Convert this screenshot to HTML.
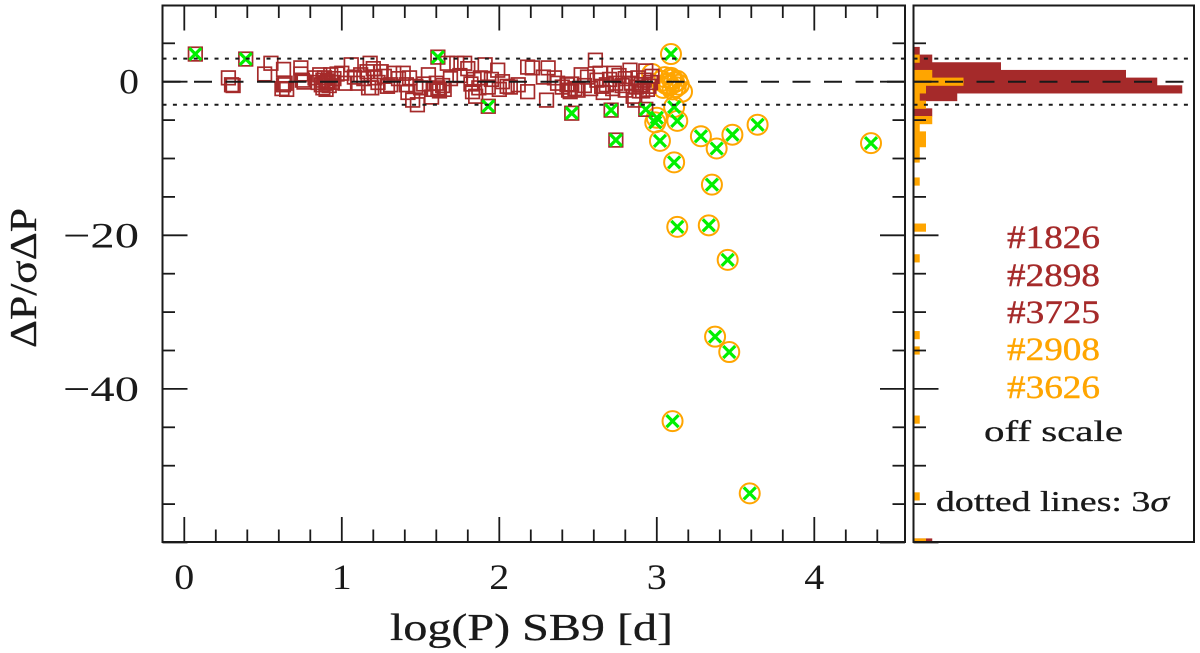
<!DOCTYPE html>
<html>
<head>
<meta charset="utf-8">
<style>
html,body{margin:0;padding:0;background:#fff;width:1200px;height:653px;overflow:hidden}
svg{display:block}
text{font-family:"Liberation Serif","DejaVu Serif",serif;fill:#1a1a1a}
</style>
</head>
<body>
<svg id="chart" width="1200" height="653" viewBox="0 0 1200 653" xmlns="http://www.w3.org/2000/svg">
<defs>
<clipPath id="hist-clip"><rect x="913.5" y="5.5" width="280.5" height="536.5"/></clipPath>
</defs>
<text x="390" y="640" font-size="38" textLength="283" lengthAdjust="spacingAndGlyphs" stroke="#1a1a1a" stroke-width="0.3">log(P) SB9 [d]</text>
<text transform="translate(36,348) rotate(-90)" font-size="38" textLength="140" lengthAdjust="spacingAndGlyphs" stroke="#1a1a1a" stroke-width="0.3">ΔP/σΔP</text>
<text x="1007" y="248" font-size="33" textLength="93" lengthAdjust="spacingAndGlyphs" stroke="#a52a2a" stroke-width="0.4" style="fill:#a52a2a">#1826</text>
<text x="1007" y="286" font-size="33" textLength="93" lengthAdjust="spacingAndGlyphs" stroke="#a52a2a" stroke-width="0.4" style="fill:#a52a2a">#2898</text>
<text x="1007" y="323" font-size="33" textLength="93" lengthAdjust="spacingAndGlyphs" stroke="#a52a2a" stroke-width="0.4" style="fill:#a52a2a">#3725</text>
<text x="1007" y="360" font-size="33" textLength="93" lengthAdjust="spacingAndGlyphs" stroke="#ffa500" stroke-width="0.4" style="fill:#ffa500">#2908</text>
<text x="1007" y="398" font-size="33" textLength="93" lengthAdjust="spacingAndGlyphs" stroke="#ffa500" stroke-width="0.4" style="fill:#ffa500">#3626</text>
<text x="984" y="441" font-size="30" textLength="139" lengthAdjust="spacingAndGlyphs" stroke="#1a1a1a" stroke-width="0.3">off scale</text>
<text x="936" y="511" font-size="29" textLength="233" lengthAdjust="spacingAndGlyphs" stroke="#1a1a1a" stroke-width="0.3">dotted lines: 3<tspan font-style="italic">σ</tspan></text>
</svg>
<script>
var xTickLabels = [0, 1, 2, 3, 4];
var yTickLabels = [0, -20, -40];
var sigmaLevels = [3, -3];

var squareLogP = [0.28,0.30,0.31,0.51,0.55,0.63,0.74,0.63,0.62,0.64,0.65,0.75,0.76,0.74,0.83,0.85,0.86,0.87,0.88,0.88,0.89,0.90,0.90,0.91,0.92,0.93,0.94,0.95,0.97,1.00,1.02,1.06,1.08,1.10,1.12,1.14,1.16,1.17,1.18,1.19,1.20,1.21,1.23,1.25,1.27,1.29,1.31,1.33,1.36,1.39,1.41,1.43,1.42,1.45,1.48,1.47,1.50,1.52,1.55,1.57,1.58,1.60,1.61,1.62,1.64,1.65,1.67,1.69,1.73,1.75,1.78,1.80,1.82,1.83,1.84,1.85,1.87,1.88,1.91,1.93,1.95,1.99,2.00,2.02,2.05,2.07,2.12,2.18,2.18,2.21,2.31,2.30,2.28,2.35,2.37,2.40,2.43,2.44,2.45,2.46,2.48,2.50,2.52,2.54,2.56,2.58,2.61,2.62,2.64,2.65,2.66,2.68,2.70,2.73,2.72,2.74,2.76,2.78,2.80,2.80,2.83,2.84,2.85,2.86,2.87,2.88,2.89,2.90,2.91,2.92,2.93,2.94,2.95,2.96,2.97];
var squareDelta = [0.5,-0.4,-0.5,1.0,2.4,1.6,1.8,-0.4,-0.9,-0.2,-1.0,0.2,-0.05,1.0,0.5,-0.1,0.9,-0.4,0.2,-0.8,0.5,-0.2,-1.0,0.1,-0.5,0.9,-0.1,0.4,1.0,1.1,-0.2,2.2,0.6,-0.2,0.9,0.4,1.3,-0.8,2.4,-0.8,1.7,0.5,-0.1,1.3,0.7,-0.6,-0.4,1.1,0.4,1.1,-0.4,0.5,-1.4,-2.4,-3.0,-0.6,-0.8,-0.3,0.9,-2.0,-1.0,-0.2,-0.8,-1.2,-0.5,-1.0,2.4,0.4,2.4,0.8,2.4,1.7,-0.3,-1.3,0.3,-1.9,-0.8,0.5,2.2,-0.7,0.3,1.5,-1.0,0.0,-0.6,-0.7,-0.4,1.9,-1.3,1.8,1.8,-2.4,0.6,0.5,-0.2,-0.7,-0.4,-1.1,-1.3,-0.3,-0.9,-1.1,0.9,-0.5,0.6,-0.9,2.8,0.2,1.1,-0.6,-1.4,-0.4,0.3,1.1,-0.9,-0.2,0.8,-0.5,-1.1,0.4,1.5,-0.2,-1.9,-2.4,-0.7,0.5,-1.2,-0.4,-1.2,0.2,1.4,-1.0,-0.6,-0.1,0.7];

var flaggedSquareLogP = [0.07,0.39,1.61,1.93,2.46,2.71,2.74,2.93];
var flaggedSquareDelta = [3.6,2.95,3.2,-3.2,-4.1,-3.7,-7.6,-3.6];

var circleLogP = [2.97,3.05,3.07,3.10,3.13,3.14,3.16,3.10,3.08,3.12,3.06,3.09,3.04,3.03,3.11];
var circleDelta = [1.0,0.6,-0.2,0.3,0.1,-0.4,-1.3,-1.0,-0.5,-0.7,-0.3,0.5,-0.8,0.1,-0.1];

var flaggedCircleLogP = [3.09,3.11,3.13,3.00,2.99,3.02,3.28,3.11,3.38,3.48,3.64,4.36,3.35,3.33,3.13,3.45,3.37,3.46,3.10,3.59];
var flaggedCircleDelta = [3.6,-3.3,-5.1,-4.7,-5.3,-7.7,-7.1,-10.5,-8.7,-6.9,-5.6,-8.0,-13.4,-18.7,-18.9,-23.2,-33.2,-35.2,-44.2,-53.6];

var brownBins = [4,3,2,1,0,-1,-2,-3,-4,-60];
var brownCounts = [1,3,14,34,39,43,7,2,3,3];
var orangeBins = [3,1,0,-1,-2,-3,-5,-6,-7,-8,-9,-10,-13,-19,-23,-33,-35,-44,-54,-60];
var orangeCounts = [1,3,8,2,1,2,3,1,2,2,1,1,1,2,1,1,1,1,1,2];

var BROWN = '#a52a2a', ORANGE = '#ffa500', GREEN = '#00f000', INK = '#1a1a1a';
var svg = document.getElementById('chart');
var NS = 'http://www.w3.org/2000/svg';
var L = 162.5, R = 905, T = 5.5, B = 542, HL = 913.5, HR = 1194;

function X(v) { return 184.3 + v * 157.5; }
function Y(v) { return 81.7 - v * 7.68; }
function W(c) { return c * 6.25; }

function make(tag, attrs, parent) {
  var el = document.createElementNS(NS, tag);
  for (var k in attrs) el.setAttribute(k, attrs[k]);
  (parent || svg).appendChild(el);
  return el;
}
function group(parent) { return make('g', {}, parent); }
function seg(g, x1, y1, x2, y2, w, dash) {
  var a = { x1: x1, y1: y1, x2: x2, y2: y2, stroke: INK, 'stroke-width': w };
  if (dash) a['stroke-dasharray'] = dash;
  return make('line', a, g);
}

/* histogram */
var hist = group();


hist.setAttribute('clip-path', 'url(#hist-clip)');
brownBins.forEach(function (b, i) {
  var r = make('rect', { x: HL, y: Y(b + 0.5) - 0.25, width: W(brownCounts[i]), height: Y(b - 0.5) - Y(b + 0.5) + 0.5, fill: BROWN }, hist);
  
  
});
orangeBins.forEach(function (b, i) {
  var r = make('rect', { x: HL, y: Y(b + 0.5) - 0.25, width: W(orangeCounts[i]), height: Y(b - 0.5) - Y(b + 0.5) + 0.5, fill: ORANGE }, hist);
  
  
});

/* open circles */
circleLogP.forEach(function (p, i) {
  var c = make('circle', { cx: X(p), cy: Y(circleDelta[i]), r: 10, fill: 'none', stroke: ORANGE, 'stroke-width': 2 });
  
  
});
flaggedCircleLogP.forEach(function (p, i) {
  var c = make('circle', { cx: X(p), cy: Y(flaggedCircleDelta[i]), r: 10, fill: 'none', stroke: ORANGE, 'stroke-width': 2 });
  
  
});

/* open squares */
squareLogP.forEach(function (p, i) {
  var s = make('rect', { x: X(p) - 6.8, y: Y(squareDelta[i]) - 6.8, width: 13.6, height: 13.6, fill: 'none', stroke: BROWN, 'stroke-width': 1.7 });
  
  
});
flaggedSquareLogP.forEach(function (p, i) {
  var s = make('rect', { x: X(p) - 6.8, y: Y(flaggedSquareDelta[i]) - 6.8, width: 13.6, height: 13.6, fill: 'none', stroke: BROWN, 'stroke-width': 1.7 });
  
  
});

/* green crosses */
function cross(px, py) {
  var g = group();
  
  
  var d = 6;
  make('line', { x1: px - d, y1: py - d, x2: px + d, y2: py + d, stroke: GREEN, 'stroke-width': 3.2 }, g);
  make('line', { x1: px - d, y1: py + d, x2: px + d, y2: py - d, stroke: GREEN, 'stroke-width': 3.2 }, g);
}
flaggedCircleLogP.forEach(function (p, i) { cross(X(p), Y(flaggedCircleDelta[i])); });
flaggedSquareLogP.forEach(function (p, i) { cross(X(p), Y(flaggedSquareDelta[i])); });

/* reference lines */
var refs = group();


[[L, R], [HL, HR]].forEach(function (span) {
  seg(refs, span[0], Y(0), span[1], Y(0), 2, '18 13.5');
  sigmaLevels.forEach(function (s) {
    seg(refs, span[0], Y(s), span[1], Y(s), 2, '4 6.4');
  });
});

/* ticks */
var ticks = group();


for (var k = 0; k <= 22; k++) {
  var v = k * 0.2, len = (k % 5 === 0) ? 25 : 12.5;
  seg(ticks, X(v), T, X(v), T + len, 1.8);
  seg(ticks, X(v), B, X(v), B - len, 1.8);
}
for (var m = -60; m <= 5; m += 5) {
  var l = (m % 20 === 0) ? 25 : 12.5;
  seg(ticks, L, Y(m), L + l, Y(m), 1.8);
  seg(ticks, R, Y(m), R - l, Y(m), 1.8);
  seg(ticks, HL, Y(m), HL + l, Y(m), 1.8);
}

/* frames */
var frameLeft = make('rect', { x: L, y: T, width: R - L, height: B - T, fill: 'none', stroke: INK, 'stroke-width': 2 });


var frameRight = make('rect', { x: HL, y: T, width: HR - HL, height: B - T, fill: 'none', stroke: INK, 'stroke-width': 2 });



/* tick labels */
xTickLabels.forEach(function (v) {
  var t = make('text', { x: X(v), y: 589, 'font-size': 36, 'text-anchor': 'middle', textLength: 20, lengthAdjust: 'spacingAndGlyphs' });
  
  
  t.textContent = String(v);
});
yTickLabels.forEach(function (v) {
  var t = make('text', { x: 139, y: Y(v) + 12, 'font-size': 36, 'text-anchor': 'end', textLength: v < 0 ? 76 : 20, lengthAdjust: 'spacingAndGlyphs' });
  
  
  t.textContent = (v < 0 ? '\u2212' + Math.abs(v) : String(v));
});
</script>
</body>
</html>
